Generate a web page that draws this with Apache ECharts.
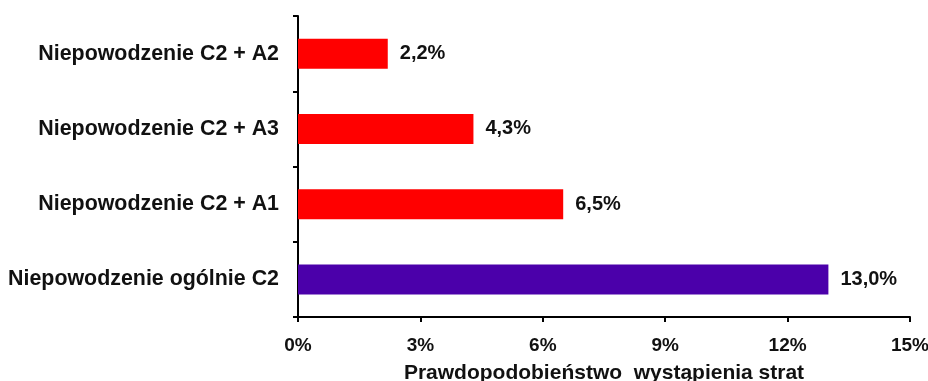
<!DOCTYPE html>
<html>
<head>
<meta charset="utf-8">
<script src="https://cdn.jsdelivr.net/npm/echarts@6/dist/echarts.min.js"></script>
<style>
  html, body { margin: 0; padding: 0; background: #fff; }
  #chart { width: 928px; height: 381px; }
</style>
</head>
<body>
<div id="chart"></div>
<script>
// kategorie od góry do dołu
const categories = [
  'Niepowodzenie C2 + A2',
  'Niepowodzenie C2 + A3',
  'Niepowodzenie C2 + A1',
  'Niepowodzenie ogólnie C2'
]
const values = [2.2, 4.3, 6.5, 13.0]
const barColors = ['#ff0000', '#ff0000', '#ff0000', '#4b00aa']
const xTicks = [0, 3, 6, 9, 12, 15]
const axisName = 'Prawdopodobieństwo  wystąpienia strat'

const font = 'Liberation Sans, Arial, sans-serif'

const chart = echarts.init(document.getElementById('chart'))
chart.setOption({
  animation: false,
  grid: {
    left: 298, right: 18, top: 16, bottom: 64,
    containLabel: false,
    outerBoundsMode: 'none'
  },
  xAxis: {
    type: 'value',
    min: xTicks[0],
    max: xTicks[xTicks.length - 1],
    interval: xTicks[1] - xTicks[0],
    name: axisName,
    nameLocation: 'middle',
    nameGap: 46,
    nameTextStyle: { fontFamily: font, fontWeight: 'bold', fontSize: 21, color: '#111' },
    axisLine: { show: true, lineStyle: { color: '#000', width: 2 } },
    axisTick: { show: true, length: 5, lineStyle: { color: '#000', width: 2 } },
    axisLabel: {
      margin: 19,
      fontFamily: font, fontWeight: 'bold', fontSize: 19, color: '#111',
      formatter: v => v + '%'
    },
    splitLine: { show: false }
  },
  yAxis: {
    type: 'category',
    data: categories,
    inverse: true,
    axisLine: { show: true, lineStyle: { color: '#000', width: 2 } },
    axisTick: { show: true, length: 5, lineStyle: { color: '#000', width: 2 } },
    axisLabel: {
      margin: 19,
      fontFamily: font, fontWeight: 'bold', fontSize: 21.4, color: '#111'
    }
  },
  series: [{
    type: 'bar',
    barWidth: 30,
    data: values.map((v, i) => ({ value: v, itemStyle: { color: barColors[i] } })),
    label: {
      show: true,
      position: 'right',
      distance: 12,
      fontFamily: font, fontWeight: 'bold', fontSize: 20, color: '#111',
      formatter: p => p.value.toFixed(1).replace('.', ',') + '%'
    }
  }]
})
</script>
</body>
</html>
